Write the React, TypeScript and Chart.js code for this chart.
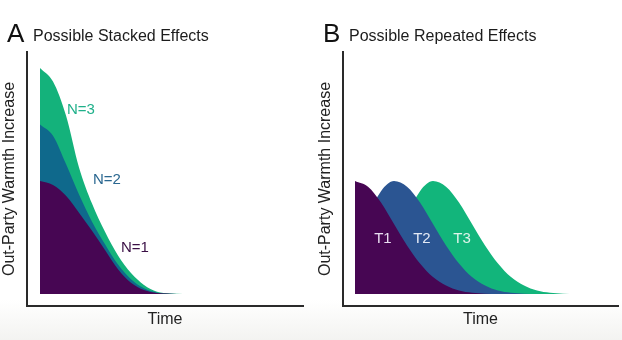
import React, { useEffect, useRef } from "react";
import { Chart, registerables } from "chart.js";

Chart.register(...registerables);

// ---- Panel A: stacked effects (heights relative to a single effect peak = 1) ----
const stackedTimes = [0, 1, 2, 3, 4, 5, 6, 7, 8, 9, 10, 11];
const stackedN1 = [1.0, 0.965, 0.87, 0.72, 0.56, 0.39, 0.22, 0.1, 0.035, 0.008, 0.002, 0.0];
const stackedN2 = [1.5, 1.4, 1.15, 0.88, 0.64, 0.44, 0.26, 0.13, 0.05, 0.012, 0.003, 0.0];
const stackedN3 = [2.0, 1.88, 1.58, 1.12, 0.8, 0.55, 0.34, 0.185, 0.08, 0.02, 0.004, 0.0];
const stackedLabels = ["N=1", "N=2", "N=3"];

// ---- Panel B: repeated effects ----
const repeatT1Times = [0, 1, 2, 3, 4, 5, 6, 7, 8, 9, 10, 11];
const repeatT1 = [1.0, 0.95, 0.81, 0.62, 0.43, 0.27, 0.15, 0.075, 0.03, 0.01, 0.002, 0.0];
const repeatT2Times = [0, 1, 2, 3, 4, 5, 6, 7, 8, 9, 10, 11, 12, 13, 14];
const repeatT2 = [0.44, 0.69, 0.91, 1.0, 0.95, 0.81, 0.62, 0.43, 0.27, 0.15, 0.075, 0.03, 0.01, 0.002, 0.0];
const repeatT3Times = [3, 4, 5, 6, 7, 8, 9, 10, 11, 12, 13, 14, 15, 16, 17];
const repeatT3 = [0.44, 0.69, 0.91, 1.0, 0.95, 0.81, 0.62, 0.43, 0.27, 0.15, 0.075, 0.03, 0.01, 0.002, 0.0];
const repeatLabels = ["T1", "T2", "T3"];

const yTitle = "Out-Party Warmth Increase";
const xTitle = "Time";

const FONT = '"Liberation Sans", Arial, sans-serif';

type Series = { times: number[]; values: number[]; color: string };
type Label = { text: string; t: number; v: number; color: string };

type PanelConfig = {
  letter: string;
  title: string;
  letterX: number;
  titleX: number;
  yTitleX: number;
  padding: { left: number; right: number; top: number; bottom: number };
  xMin: number;
  xMax: number;
  series: Series[];
  labels: Label[];
};

const toPoints = (times: number[], values: number[]) =>
  times.map((t, i) => ({ x: t, y: values[i] }));

function Panel({ cfg, left }: { cfg: PanelConfig; left: number }) {
  const ref = useRef<HTMLCanvasElement | null>(null);

  useEffect(() => {
    if (!ref.current) return;
    const textPlugin = {
      id: "panelText",
      afterDraw(chart: any) {
        const ctx = chart.ctx as CanvasRenderingContext2D;
        const { left: l, right: r, top: t, bottom: b } = chart.chartArea;
        ctx.save();
        ctx.fillStyle = "#111";
        ctx.textAlign = "left";
        ctx.textBaseline = "alphabetic";
        ctx.font = `26px ${FONT}`;
        ctx.fillText(cfg.letter, cfg.letterX, 42);
        ctx.font = `16px ${FONT}`;
        ctx.fillStyle = "#1c1c1c";
        ctx.fillText(cfg.title, cfg.titleX, 41);

        ctx.textAlign = "center";
        ctx.textBaseline = "middle";
        ctx.fillStyle = "#222";
        ctx.font = `16px ${FONT}`;
        ctx.fillText(xTitle, (l + r) / 2, 320);

        ctx.save();
        ctx.translate(cfg.yTitleX, (t + b) / 2);
        ctx.rotate(-Math.PI / 2);
        ctx.fillText(yTitle, 0, 0);
        ctx.restore();

        ctx.font = `15px ${FONT}`;
        for (const lab of cfg.labels) {
          const x = chart.scales.x.getPixelForValue(lab.t);
          const y = chart.scales.y.getPixelForValue(lab.v);
          ctx.fillStyle = lab.color;
          ctx.fillText(lab.text, x, y);
        }
        ctx.restore();
      },
    };

    const chart = new Chart(ref.current, {
      type: "line",
      data: {
        datasets: cfg.series.map((s) => ({
          data: toPoints(s.times, s.values),
          backgroundColor: s.color,
          borderColor: s.color,
          borderWidth: 0,
          pointRadius: 0,
          fill: "origin",
          cubicInterpolationMode: "monotone",
        })),
      },
      options: {
        responsive: false,
        animation: false,
        layout: { padding: cfg.padding },
        plugins: {
          legend: { display: false },
          tooltip: { enabled: false },
          title: { display: false },
        },
        events: [],
        scales: {
          x: {
            type: "linear",
            min: cfg.xMin,
            max: cfg.xMax,
            ticks: { display: false },
            grid: { display: false, drawTicks: false },
            border: { display: true, color: "#2a2a2a", width: 2 },
            title: { display: false },
            afterFit: (s: any) => {
              s.height = 0;
            },
          },
          y: {
            type: "linear",
            min: -0.1062,
            max: 2.1416,
            ticks: { display: false },
            grid: { display: false, drawTicks: false },
            border: { display: true, color: "#2a2a2a", width: 2 },
            title: { display: false },
            afterFit: (s: any) => {
              s.width = 0;
            },
          },
        },
      } as any,
      plugins: [textPlugin],
    });
    return () => chart.destroy();
  }, [cfg]);

  return (
    <canvas
      ref={ref}
      width={311}
      height={340}
      style={{ position: "absolute", left, top: 0, width: 311, height: 340 }}
    />
  );
}

const panelA: PanelConfig = {
  letter: "A",
  title: "Possible Stacked Effects",
  letterX: 7,
  titleX: 33,
  yTitleX: 10,
  padding: { left: 27, right: 8, top: 52, bottom: 34 },
  xMin: -1,
  xMax: 20.23,
  series: [
    { times: stackedTimes, values: stackedN1, color: "#470653" },
    { times: stackedTimes, values: stackedN2, color: "#0f698c" },
    { times: stackedTimes, values: stackedN3, color: "#14b27b" },
  ],
  labels: [
    { text: stackedLabels[0], t: 7.3, v: 0.41, color: "#3a0f45" },
    { text: stackedLabels[1], t: 5.15, v: 1.01, color: "#2a6790" },
    { text: stackedLabels[2], t: 3.15, v: 1.63, color: "#1fb08a" },
  ],
};

const panelB: PanelConfig = {
  letter: "B",
  title: "Possible Repeated Effects",
  letterX: 12,
  titleX: 38,
  yTitleX: 15,
  padding: { left: 32, right: 4, top: 52, bottom: 34 },
  xMin: -0.923,
  xMax: 20.23,
  series: [
    { times: repeatT1Times, values: repeatT1, color: "#470653" },
    { times: repeatT2Times, values: repeatT2, color: "#2b5592" },
    { times: repeatT3Times, values: repeatT3, color: "#12b57b" },
  ],
  labels: [
    { text: repeatLabels[0], t: 2.15, v: 0.49, color: "#e8ddf0" },
    { text: repeatLabels[1], t: 5.15, v: 0.49, color: "#e2e9f5" },
    { text: repeatLabels[2], t: 8.23, v: 0.49, color: "#def4ea" },
  ],
};

export default function App() {
  useEffect(() => {
    document.body.style.margin = "0";
  }, []);
  return (
    <div
      style={{
        position: "relative",
        width: 622,
        height: 340,
        overflow: "hidden",
        background: "linear-gradient(to bottom, #ffffff 0px, #ffffff 300px, #f3f3f1 340px)",
      }}
    >
      <Panel cfg={panelA} left={0} />
      <Panel cfg={panelB} left={311} />
    </div>
  );
}
